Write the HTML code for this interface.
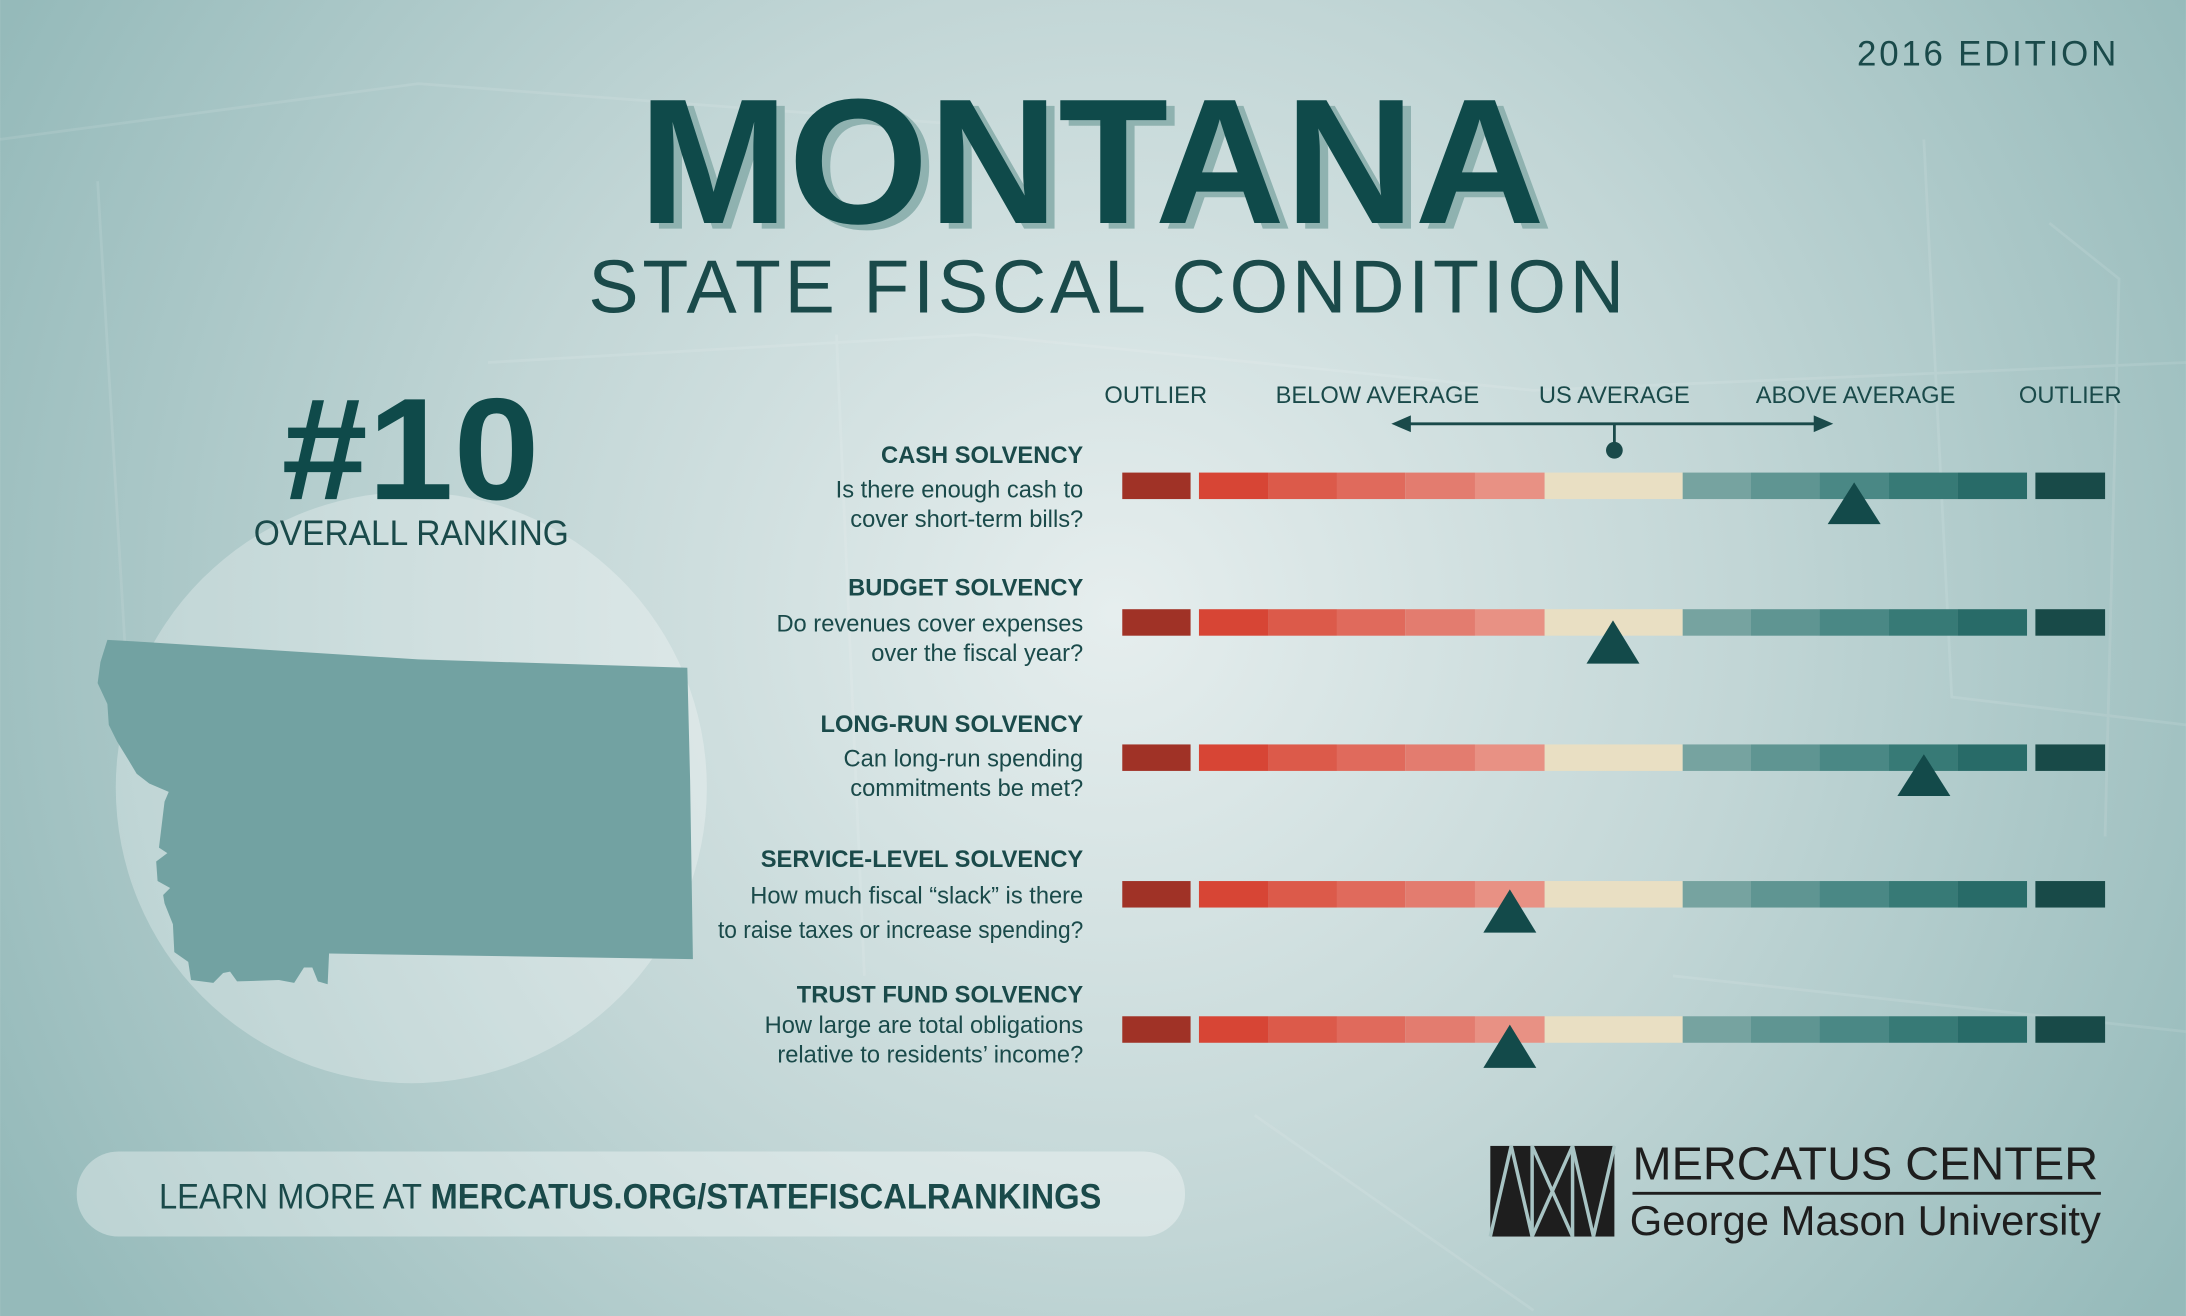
<!DOCTYPE html>
<html><head><meta charset="utf-8"><style>
html,body{margin:0;padding:0;}
body{width:2186px;height:1316px;overflow:hidden;}
svg{display:block;}
text{font-family:"Liberation Sans",sans-serif;}
</style></head><body>
<svg width="2186" height="1316" viewBox="0 0 1568 944" xmlns="http://www.w3.org/2000/svg">
<defs>
<radialGradient id="bg" cx="800" cy="440" r="900" gradientUnits="userSpaceOnUse">
<stop offset="0" stop-color="#e6eeee"/><stop offset="0.5" stop-color="#c2d6d6"/><stop offset="1" stop-color="#95baba"/>
</radialGradient>
</defs>
<rect width="1568" height="944" fill="url(#bg)"/>
<g stroke="#ffffff" stroke-opacity="0.1" fill="none" stroke-width="2">
<path d="M0 100 L300 60 L700 90 M70 130 L90 470 M350 260 L700 240 L1100 280 L1568 260 M600 240 L620 700 M1380 100 L1400 500 L1568 520 M1470 160 L1520 200 L1510 600 M900 800 L1100 940 M1200 700 L1568 740"/>
</g>
<circle cx="295" cy="565" r="212" fill="#ffffff" fill-opacity="0.28"/>
<path d="M77 459 L95 460 L300 473 L493 479 L495 560 L497 688 L236 684 L235 706 L228 704 L224 694 L218 694 L211 705 L200 703 L170 704 L165 697 L160 698 L153 705 L137 703 L135 690 L125 683 L124 663 L118 648 L117 642 L122 637 L113 632 L112 618 L120 612 L114 608 L118 575 L121 568 L107 562 L98 555 L92 545 L84 532 L78 520 L77 505 L70 490 L72 475 Z" fill="#72a2a2"/>
<text x="1520" y="47" text-anchor="end" font-size="25" fill="#1a4a4a" letter-spacing="2">2016 EDITION</text>
<text x="464" y="164" font-size="128" font-weight="bold" fill="#8fb2b0" textLength="650" lengthAdjust="spacingAndGlyphs">MONTANA</text>
<text x="458" y="160" font-size="128" font-weight="bold" fill="#0f4a4a" textLength="650" lengthAdjust="spacingAndGlyphs">MONTANA</text>
<text x="422" y="224" font-size="54" fill="#1a4a4a" textLength="743" lengthAdjust="spacing" style="font-weight:300">STATE FISCAL CONDITION</text>
<text x="202" y="358" font-size="104" font-weight="bold" fill="#0f4a4a" textLength="185" lengthAdjust="spacingAndGlyphs">#10</text>
<text x="295" y="391" text-anchor="middle" font-size="25" fill="#1a4a4a" textLength="226" lengthAdjust="spacingAndGlyphs">OVERALL RANKING</text>
<g font-size="17" fill="#1a4a4a">
<text x="829" y="289" text-anchor="middle">OUTLIER</text>
<text x="988" y="289" text-anchor="middle">BELOW AVERAGE</text>
<text x="1158" y="289" text-anchor="middle">US AVERAGE</text>
<text x="1331" y="289" text-anchor="middle">ABOVE AVERAGE</text>
<text x="1485" y="289" text-anchor="middle">OUTLIER</text>
</g>
<line x1="1005" y1="304" x2="1308" y2="304" stroke="#1a4a4a" stroke-width="2"/>
<path d="M998 304 L1012 298 L1012 310 Z M1315 304 L1301 298 L1301 310 Z" fill="#1a4a4a"/>
<line x1="1158" y1="304" x2="1158" y2="322" stroke="#1a4a4a" stroke-width="2"/>
<circle cx="1158" cy="323" r="6" fill="#1a4a4a"/>
<g font-size="17" fill="#1a4a4a" text-anchor="end">
<text x="777" y="332" font-weight="bold">CASH SOLVENCY</text>
<text x="777" y="357">Is there enough cash to</text>
<text x="777" y="378">cover short-term bills?</text>
<text x="777" y="427" font-weight="bold">BUDGET SOLVENCY</text>
<text x="777" y="453">Do revenues cover expenses</text>
<text x="777" y="474">over the fiscal year?</text>
<text x="777" y="525" font-weight="bold">LONG-RUN SOLVENCY</text>
<text x="777" y="550">Can long-run spending</text>
<text x="777" y="571">commitments be met?</text>
<text x="777" y="622" font-weight="bold">SERVICE-LEVEL SOLVENCY</text>
<text x="777" y="648">How much fiscal “slack” is there</text>
<text x="777" y="673" textLength="262" lengthAdjust="spacingAndGlyphs">to raise taxes or increase spending?</text>
<text x="777" y="719" font-weight="bold">TRUST FUND SOLVENCY</text>
<text x="777" y="741">How large are total obligations</text>
<text x="777" y="762">relative to residents’ income?</text>
</g>
<g id="rows">
<g transform="translate(0,339)"><rect x="805" width="49" height="19" fill="#a03226"/><rect x="860" width="50" height="19" fill="#d74535"/><rect x="910" width="49" height="19" fill="#dc5a4a"/><rect x="959" width="49" height="19" fill="#e06a5c"/><rect x="1008" width="50" height="19" fill="#e37c6f"/><rect x="1058" width="50" height="19" fill="#e89184"/><rect x="1108" width="99" height="19" fill="#e9dfc3"/><rect x="1207" width="49" height="19" fill="#76a3a0"/><rect x="1256" width="49" height="19" fill="#5f9592"/><rect x="1305" width="50" height="19" fill="#4a8885"/><rect x="1355" width="49" height="19" fill="#377a76"/><rect x="1404" width="50" height="19" fill="#286b68"/><rect x="1460" width="50" height="19" fill="#184a48"/></g>
</g>
<use href="#rows" y="98"/>
<use href="#rows" y="195"/>
<use href="#rows" y="293"/>
<use href="#rows" y="390"/>
<g fill="#134a4a">
<path d="M1330 346 L1349 376 L1311 376 Z"/>
<path d="M1157 445 L1176 476 L1138 476 Z"/>
<path d="M1380 541 L1399 571 L1361 571 Z"/>
<path d="M1083 638 L1102 669 L1064 669 Z"/>
<path d="M1083 735 L1102 766 L1064 766 Z"/>
</g>
<rect x="55" y="826" width="795" height="61" rx="30" fill="#ffffff" fill-opacity="0.35"/>
<text x="114" y="867" font-size="25" fill="#1a4a4a" textLength="676" lengthAdjust="spacingAndGlyphs">LEARN MORE AT <tspan font-weight="bold">MERCATUS.ORG/STATEFISCALRANKINGS</tspan></text>
<g>
<rect x="1069" y="822" width="89" height="65" fill="#1e1e1e"/>
<g stroke="#a8c4c4" stroke-width="2.5">
<line x1="1099" y1="822" x2="1099" y2="887"/><line x1="1128" y1="822" x2="1128" y2="887"/>
<line x1="1069" y1="887" x2="1084" y2="822"/><line x1="1084" y1="822" x2="1099" y2="887"/>
<line x1="1099" y1="887" x2="1128" y2="822"/><line x1="1099" y1="822" x2="1128" y2="887"/>
<line x1="1128" y1="822" x2="1143" y2="887"/><line x1="1143" y1="887" x2="1158" y2="822"/>
</g>
<text x="1171" y="846" font-size="33" fill="#1e1e1e" textLength="334" lengthAdjust="spacingAndGlyphs">MERCATUS CENTER</text>
<line x1="1171" y1="856" x2="1507" y2="856" stroke="#1e1e1e" stroke-width="2"/>
<text x="1169" y="886" font-size="30" fill="#1e1e1e" textLength="338" lengthAdjust="spacingAndGlyphs">George Mason University</text>
</g>
</svg>
</body></html>
